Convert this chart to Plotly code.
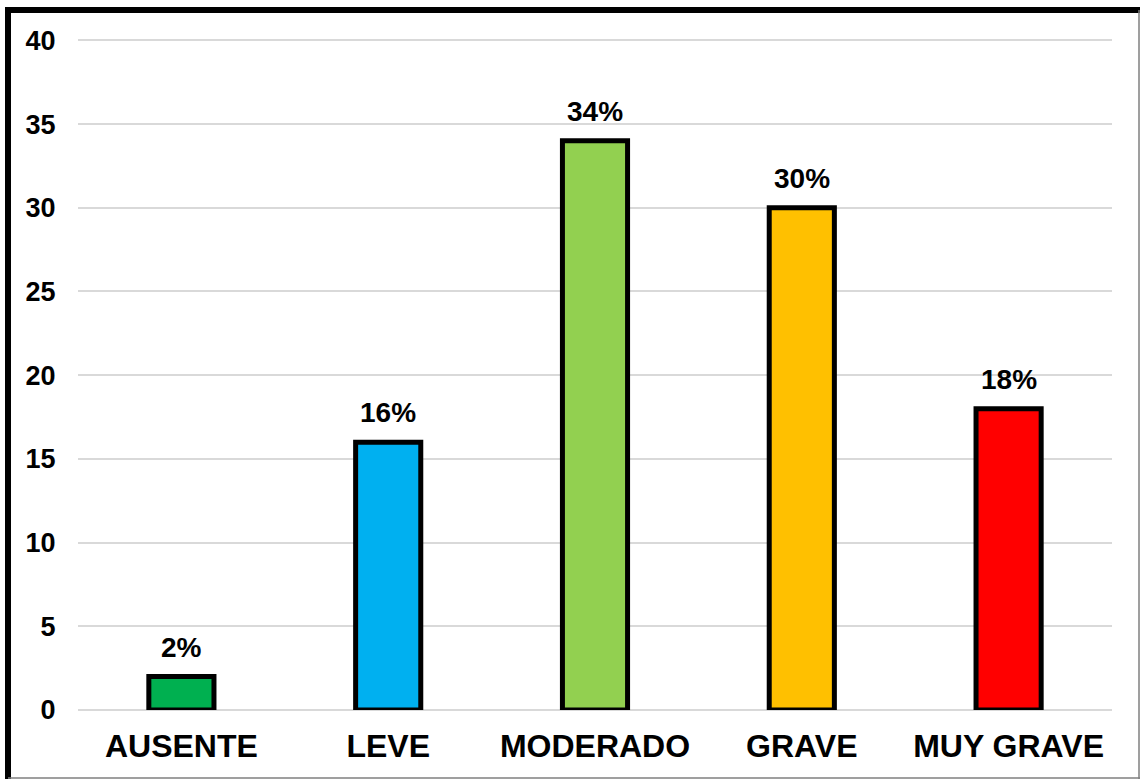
import plotly.graph_objects as go

categories = ["AUSENTE", "LEVE", "MODERADO", "GRAVE", "MUY GRAVE"]
values = [2, 16, 34, 30, 18]
labels = ["2%", "16%", "34%", "30%", "18%"]
colors = ["#00B050", "#00B0F0", "#92D050", "#FFC000", "#FF0000"]
y_ticks = [0, 5, 10, 15, 20, 25, 30, 35, 40]

W, H = 1140, 779
L, R, T, B = 78, 28, 37, 69
pw, ph = W - L - R, H - T - B

def px(x):
    return (x - L) / pw

def py(y):
    return (H - B - y) / ph

FAM = "Arial, Liberation Sans"

fig = go.Figure(go.Bar(
    x=categories, y=values,
    marker=dict(color=colors, line=dict(color="black", width=5)),
    cliponaxis=False, width=0.315,
))

annotations = [
    dict(x=c, y=v, text=t, showarrow=False, yanchor="bottom", yshift=12,
         font=dict(family=FAM, size=28, color="black", weight="bold"))
    for c, v, t in zip(categories, values, labels)
]

shapes = [
    dict(type="line", xref="paper", yref="paper", x0=px(8), x1=px(8), y0=py(7), y1=py(782),
         line=dict(color="black", width=6)),
    dict(type="line", xref="paper", yref="paper", x0=px(5), x1=px(1142), y0=py(10), y1=py(10),
         line=dict(color="black", width=6)),
    dict(type="line", xref="paper", yref="paper", x0=px(1139), x1=px(1139), y0=py(10), y1=py(782),
         line=dict(color="#7f7f7f", width=1.5)),
    dict(type="line", xref="paper", yref="paper", x0=px(8), x1=px(1142), y0=py(778), y1=py(778),
         line=dict(color="#7f7f7f", width=1.5)),
]

fig.update_layout(
    width=W, height=H,
    margin=dict(l=L, r=R, t=T, b=B),
    paper_bgcolor="white", plot_bgcolor="white",
    showlegend=False,
    shapes=shapes,
    annotations=annotations,
    font=dict(family=FAM, color="black"),
    xaxis=dict(
        tickfont=dict(size=32, family=FAM, color="black", weight="bold"),
        showgrid=False, showline=False, zeroline=False,
        ticks="outside", ticklen=8, tickcolor="rgba(0,0,0,0)",
    ),
    yaxis=dict(
        range=[0, 40.2], tickvals=y_ticks,
        tickfont=dict(size=27, family=FAM, color="black", weight="bold"),
        showgrid=True, gridcolor="#d9d9d9", gridwidth=1.5,
        zeroline=True, zerolinecolor="#d9d9d9", zerolinewidth=1.5,
        showline=False,
        ticks="outside", ticklen=16, tickcolor="rgba(0,0,0,0)",
    ),
)

fig.write_html("out.html")
